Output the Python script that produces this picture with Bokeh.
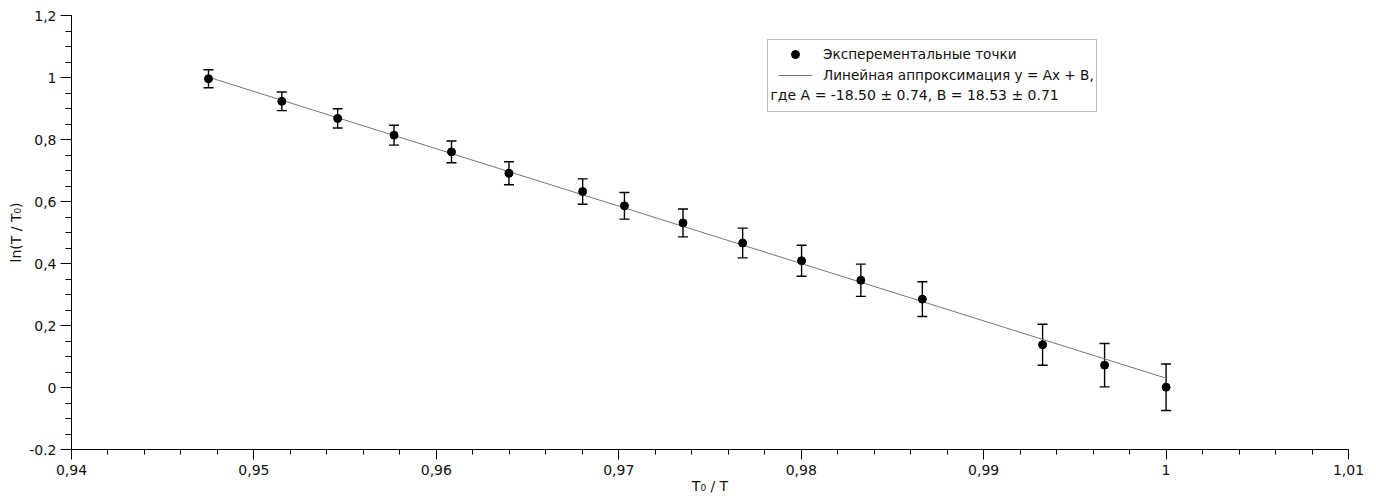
import numpy as np
from bokeh.plotting import figure
from bokeh.models import (ColumnDataSource, Whisker, TeeHead, Range1d, FixedTicker,
                          CustomJSTickFormatter, Legend, LegendItem, BoxAnnotation, Label)
from bokeh.embed import file_html
from bokeh.resources import INLINE

# ---- data ----
x_vals = [0.94751, 0.95153, 0.95459, 0.95768, 0.96083, 0.96398, 0.96802, 0.97031,
          0.97352, 0.97679, 0.98002, 0.98327, 0.98664, 0.99323, 0.99663, 1.00000]
y_vals = [0.996, 0.923, 0.868, 0.814, 0.760, 0.691, 0.632, 0.586,
          0.531, 0.466, 0.409, 0.346, 0.285, 0.138, 0.072, 0.001]
y_err = [0.029, 0.030, 0.031, 0.032, 0.035, 0.037, 0.041, 0.043,
         0.045, 0.048, 0.050, 0.052, 0.056, 0.066, 0.070, 0.075]
fit_A = -18.50
fit_B = 18.53

x_ticks = [0.94, 0.95, 0.96, 0.97, 0.98, 0.99, 1.0, 1.01]
x_tick_labels = ["0,94", "0,95", "0,96", "0,97", "0,98", "0,99", "1", "1,01"]
y_ticks = [-0.2, 0.0, 0.2, 0.4, 0.6, 0.8, 1.0, 1.2]
y_tick_labels = ["-0.2", "0", "0,2", "0,4", "0,6", "0,8", "1", "1,2"]

legend_points = "Эксперементальные точки"
legend_fit = "Линейная аппроксимация y = Ax + B,"
legend_fit_params = "где A = -18.50 ± 0.74, B = 18.53 ± 0.71"
x_title = "T₀ / T"
y_title = "ln(T / T₀)"

FONT = "DejaVu Sans"
FS = "14px"
LFS = "13.6px"
TXT = "#111111"

p = figure(width=1376, height=502, x_range=Range1d(0.94, 1.01), y_range=Range1d(-0.2, 1.2),
           output_backend="svg", toolbar_location=None,
           min_border_left=71, min_border_right=28, min_border_top=15, min_border_bottom=53,
           x_axis_label=x_title, y_axis_label=y_title)
p.xgrid.visible = False
p.ygrid.visible = False
p.outline_line_color = None
p.background_fill_color = "white"
p.border_fill_color = "white"

def fmt(ticks, labels):
    return CustomJSTickFormatter(args=dict(t=ticks, l=labels), code="""
        for (let i = 0; i < t.length; i++) { if (Math.abs(t[i] - tick) < 1e-9) return l[i]; }
        return '';
    """)

x_minor = [round(v, 4) for v in np.arange(0.94, 1.0101, 0.002)]
y_minor = [round(v, 4) for v in np.arange(-0.2, 1.2001, 0.05)]
p.xaxis.ticker = FixedTicker(ticks=x_ticks, minor_ticks=x_minor)
p.yaxis.ticker = FixedTicker(ticks=y_ticks, minor_ticks=y_minor)
p.xaxis.formatter = fmt(x_ticks, x_tick_labels)
p.yaxis.formatter = fmt(y_ticks, y_tick_labels)

for ax in (p.xaxis, p.yaxis):
    ax.major_tick_in = 0
    ax.minor_tick_in = 0
    ax.major_tick_out = 11
    ax.minor_tick_out = 6
    ax.axis_line_color = "#000000"
    ax.major_tick_line_color = "#000000"
    ax.minor_tick_line_color = "#000000"
    ax.major_label_text_font = FONT
    ax.major_label_text_font_size = FS
    ax.major_label_text_color = TXT
    ax.axis_label_text_font = FONT
    ax.axis_label_text_font_size = FS
    ax.axis_label_text_font_style = "normal"
    ax.axis_label_text_color = TXT
p.xaxis.major_tick_out = 10
p.xaxis.minor_tick_out = 5
p.xaxis.major_label_standoff = 5
p.xaxis.axis_label_standoff = 0
p.yaxis.major_label_standoff = 4
p.yaxis.axis_label_standoff = 2

# fit line
fx = [x_vals[0], x_vals[-1]]
fy = [fit_A * v + fit_B for v in fx]
fit_r = p.line(fx, fy, line_color="#777777", line_width=1)

# error bars
src = ColumnDataSource(dict(x=x_vals, y=y_vals,
                            upper=[a + e for a, e in zip(y_vals, y_err)],
                            lower=[a - e for a, e in zip(y_vals, y_err)]))
wh = Whisker(source=src, base="x", upper="upper", lower="lower", dimension="height",
             line_color="black", line_width=1.4,
             upper_head=TeeHead(size=10, line_color="black", line_width=1.4),
             lower_head=TeeHead(size=10, line_color="black", line_width=1.4))
p.add_layout(wh)

pts_r = p.scatter("x", "y", source=src, size=8, color="black")

# legend
legend = Legend(items=[LegendItem(label=legend_points, renderers=[pts_r]),
                       LegendItem(label=legend_fit, renderers=[fit_r])],
                location=(707, 364), orientation="vertical",
                glyph_width=34, glyph_height=20, label_height=20, label_standoff=11,
                spacing=1, padding=0, margin=0,
                border_line_color=None, background_fill_alpha=0,
                label_text_font=FONT, label_text_font_size=LFS, label_text_color=TXT)
p.add_layout(legend, "center")

box = BoxAnnotation(left=696, right=1025, top=410, bottom=338,
                    left_units="screen", right_units="screen", top_units="screen", bottom_units="screen",
                    fill_color="white", fill_alpha=1.0, line_color="#222222", line_width=1, level="underlay")
p.add_layout(box)

lab = Label(x=699, y=355, x_units="screen", y_units="screen", text=legend_fit_params,
            text_font=FONT, text_font_size=FS, text_color=TXT, text_baseline="middle")
p.add_layout(lab)

open("out.html", "w").write(file_html(p, INLINE))
